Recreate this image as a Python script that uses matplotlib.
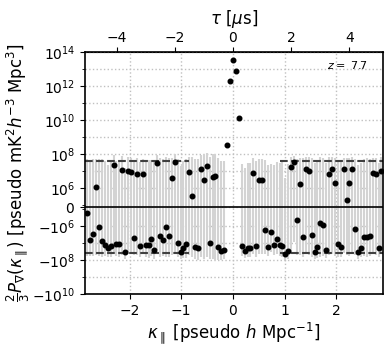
import numpy as np
import matplotlib
matplotlib.use("Agg")
import matplotlib.pyplot as plt
from matplotlib.ticker import FixedLocator

# ---- data -------------------------------------------------------------
dk = 0.0563                      # kappa spacing [pseudo h/Mpc]
idx = np.arange(-50, 52)         # channel index
kappa = idx * dk

power = [
    -3.2e5, -6.8e6, -2.8e6, 1.1e6, -1.2e6, -7.4e6, -1.26e7, -2.1e7, -1.6e7, 2.4e7,
    -1.2e7, -1.1e7, 1.2e7, -3.5e7, 1.0e7, 9.3e6, -5.0e6, 6.6e6, -1.6e7, 6.3e6,
    -1.3e7, -1.3e7, -5.9e6, -2.5e7, 2.9e7, -4.0e6, -6.8e6, -1.1e6, -4.0e6, 3.8e6,
    3.3e7, -1.0e7, -3.6e7, -2.1e7, -1.1e7, 8.5e6, 5.6e5, -1.7e7, -2.1e7, 1.3e7,
    2.8e6, 1.9e7, -1.0e7, 4.4e6, 5.0e6, -1.8e7, -2.9e7, -2.5e7, 3.5e8, 2.1e12,
    3.5e13, 7.9e12, 1.26e10, -1.55e7, -3.0e7, -2.0e7, -2.1e7, 7.8e6, -1.55e7, 3.0e6,
    3.0e6, -1.8e6, -1.7e7, -2.2e6, -1.3e7, -6.2e6, -1.4e7, -1.55e7, -4.6e7, -3.0e7,
    1.8e7, 3.6e7, -7.0e5, 1.8e6, -4.4e6, 1.4e7, 1.07e7, -3.6e6, -3.2e7, -1.7e7,
    -8.4e5, -9.7e5, -2.6e7, 6.3e6, 1.26e7, 1.9e6, -1.1e7, -1.7e7, 1.26e7, 3.9e5,
    2.1e6, 1.35e7, -1.6e6, -3.2e7, -2.1e7, -4.6e6, -4.4e6, -4.0e6, 7.9e6, 6.6e6,
    -2.1e7, 1.07e7,
]

nan = float("nan")
sigma_e7 = [
    5.5, 5.0, 5.5, 5.0, 5.5,  6.0, 5.0, 4.5, 5.5, 6.0,
    5.0, 5.5, 6.0, 5.0, 5.5,  5.0, 4.5, 5.5, 5.0, 4.5,
    5.5, 6.0, 5.0, 6.5, 5.5,  6.0, 5.5, 6.5, 6.0, 5.5,
    6.5, 6.0, 5.5, 6.0, 6.5,  6.0, 6.5, 7.0, 7.5, 8.0,
    8.5, 9.0, 8.0, 9.0, 10.0, 8.0, 7.0, 6.5,
    nan, nan, nan, nan, nan,
    4.0, 4.5, 5.0, 5.0, 5.5,  5.5, 5.0, 5.0, 4.5, 4.0,
    3.0, 3.5, 4.0, 4.5, 5.0,  5.0, 5.5, 5.0, 4.5, 5.0,
    5.5, 6.0, 5.5, 6.0, 6.5,  6.0, 5.5, 6.5, 6.0, 5.5,
    6.0, 5.5, 6.0, 5.5, 5.0,  5.0, 5.5, 6.0, 5.5, 5.0,
    5.5, 5.0, 5.5, 6.0, 5.5,  5.0, 5.5, 5.0, 5.5,
]

noise_level = 4.0e7
noise_cut_lo = -0.85
noise_cut_hi = 0.90
tau_per_kappa = 1.78            # microseconds per (pseudo h/Mpc)
redshift = "7.7"

xlim = (-2.86, 2.90)
ylim = (-1e10, 1e14)
y_major = [-1e10, -1e8, -1e6, 0, 1e6, 1e8, 1e10, 1e12, 1e14]
y_major_labels = [r"$-10^{10}$", r"$-10^{8}$", r"$-10^{6}$", r"$0$", r"$10^{6}$",
                  r"$10^{8}$", r"$10^{10}$", r"$10^{12}$", r"$10^{14}$"]
y_minor = [-1e9, -1e7, -1e5, 1e5, 1e7, 1e9, 1e11, 1e13]
x_ticks = [-2, -1, 0, 1, 2]
tau_ticks = [-4, -2, 0, 2, 4]

# ---- figure -----------------------------------------------------------
power = np.array(power)
sigma = np.array(sigma_e7) * 1e7

fig = plt.figure(figsize=(3.9, 3.51), dpi=100)
ax = fig.add_axes([0.218, 0.1624, 0.764, 0.6896])
ax.set_yscale("symlog", linthresh=1e6, linscale=1)

ok = np.isfinite(sigma)
ax.vlines(kappa[ok], power[ok] - sigma[ok], power[ok] + sigma[ok],
          colors="#d3d3d3", linewidth=1.5, zorder=1.8)

ax.axhline(0, color="k", lw=1.2, zorder=2.2)
for s in (1, -1):
    ax.plot([xlim[0], noise_cut_lo], [s * noise_level] * 2, ls="--",
            color="#404040", lw=1.5, zorder=2.5)
    ax.plot([noise_cut_hi, xlim[1]], [s * noise_level] * 2, ls="--",
            color="#404040", lw=1.5, zorder=2.5)

ax.plot(kappa, power, "o", color="k", ms=3.3, zorder=3)

ax.set_xlim(*xlim)
ax.set_ylim(*ylim)
ax.yaxis.set_major_locator(FixedLocator(y_major))
ax.set_yticklabels(y_major_labels)
ax.yaxis.set_minor_locator(FixedLocator(y_minor))
ax.set_xticks(x_ticks)
ax.tick_params(labelsize=10)

ax.grid(True, which="both", ls=":", color="#c0c0c0", lw=1.0)
for t, v in zip(ax.yaxis.get_minor_ticks(), y_minor):
    if abs(v) < 1e6:
        t.gridline.set_visible(False)
ax.xaxis.grid(True, which="major")
ax.xaxis.grid(False, which="minor")
for ln in ax.get_xgridlines() + ax.get_ygridlines():
    ln.set_zorder(1.5)

ax.set_xlabel(r"$\kappa_\parallel$ [pseudo $h$ Mpc$^{-1}$]", fontsize=12, labelpad=2)
ax.set_ylabel(r"$\frac{2}{3}P_\nabla(\kappa_\parallel)$ [pseudo mK$^2h^{-3}$ Mpc$^3$]",
              fontsize=12, labelpad=0)

sec = ax.secondary_xaxis("top", functions=(lambda k: k * tau_per_kappa,
                                           lambda t: t / tau_per_kappa))
sec.set_xticks(tau_ticks)
sec.tick_params(labelsize=10, pad=1.5)
sec.set_xlabel(r"$\tau$ [$\mu$s]", fontsize=12, labelpad=5)

ax.text(0.95, 0.945, r"$z=$ " + redshift, transform=ax.transAxes,
        ha="right", va="center", fontsize=8)

for sp in ax.spines.values():
    sp.set_linewidth(1.2)

fig.savefig("out.png", dpi=100)
